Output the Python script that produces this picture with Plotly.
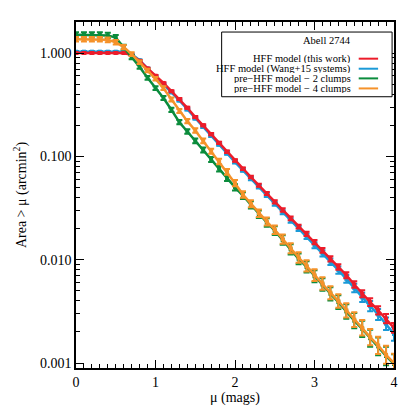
import plotly.graph_objects as go

RED = "#EC1C2A"
BLUE = "#1B9AD7"
GREEN = "#0B8C3C"
ORANGE = "#F5922A"

mu = [0.0, 0.1, 0.2, 0.3, 0.4, 0.5, 0.6, 0.7, 0.8, 0.9,
      1.0, 1.1, 1.2, 1.3, 1.4, 1.5, 1.6, 1.7, 1.8, 1.9,
      2.0, 2.1, 2.2, 2.3, 2.4, 2.5, 2.6, 2.7, 2.8, 2.9,
      3.0, 3.1, 3.2, 3.3, 3.4, 3.5, 3.6, 3.7, 3.8, 3.9, 4.0]

# HFF model (this work)
area_red = [1.00, 1.00, 1.00, 1.00, 1.00, 1.00, 1.00, 0.955, 0.841, 0.708,
            0.603, 0.513, 0.427, 0.359, 0.295, 0.240, 0.200, 0.164, 0.135, 0.111,
            0.0912, 0.0759, 0.0631, 0.0525, 0.0437, 0.0363, 0.0302, 0.0251, 0.0209, 0.0178,
            0.0148, 0.0123, 0.0102, 0.00851, 0.00708, 0.00575, 0.00468, 0.00389, 0.00324, 0.00269, 0.00219]
# HFF model (Wang+15 systems)
area_blue = [1.03, 1.03, 1.03, 1.03, 1.03, 1.03, 1.03, 0.977, 0.851, 0.708,
             0.596, 0.501, 0.417, 0.347, 0.285, 0.232, 0.193, 0.158, 0.130, 0.107,
             0.0881, 0.0733, 0.0610, 0.0507, 0.0422, 0.0347, 0.0288, 0.0240, 0.0200, 0.0168,
             0.0138, 0.0115, 0.00955, 0.00794, 0.00653, 0.00531, 0.00432, 0.00355, 0.00295, 0.00240, 0.00191]
# pre-HFF model - 2 clumps
area_green = [1.50, 1.50, 1.50, 1.50, 1.48, 1.41, 1.14, 0.912, 0.733, 0.575,
              0.457, 0.367, 0.282, 0.214, 0.174, 0.141, 0.115, 0.0933, 0.0759, 0.0617,
              0.0501, 0.0417, 0.0339, 0.0275, 0.0229, 0.0191, 0.0155, 0.0126, 0.0102, 0.00851,
              0.00692, 0.00575, 0.00468, 0.00389, 0.00316, 0.00257, 0.00214, 0.00174, 0.00145, 0.00117, 0.000977]
# pre-HFF model - 4 clumps
area_orange = [1.36, 1.36, 1.36, 1.36, 1.34, 1.27, 1.14, 0.977, 0.813, 0.676,
               0.562, 0.457, 0.355, 0.275, 0.219, 0.178, 0.141, 0.112, 0.0891, 0.0708,
               0.0550, 0.0427, 0.0347, 0.0282, 0.0234, 0.0195, 0.0158, 0.0129, 0.0105, 0.00871,
               0.00708, 0.00589, 0.00479, 0.00398, 0.00324, 0.00263, 0.00219, 0.00178, 0.00148, 0.00120, 0.00100]

# error bars, in dex
err_red = [0.006, 0.006, 0.006, 0.006, 0.006, 0.006, 0.006, 0.006, 0.007, 0.007,
           0.008, 0.008, 0.008, 0.009, 0.009, 0.010, 0.010, 0.011, 0.011, 0.012,
           0.012, 0.013, 0.013, 0.014, 0.015, 0.016, 0.017, 0.018, 0.019, 0.020,
           0.021, 0.023, 0.025, 0.027, 0.029, 0.031, 0.034, 0.037, 0.040, 0.044, 0.048]
err_blue = [0.006, 0.006, 0.006, 0.006, 0.006, 0.006, 0.006, 0.006, 0.007, 0.007,
            0.008, 0.008, 0.009, 0.009, 0.010, 0.010, 0.011, 0.011, 0.012, 0.013,
            0.014, 0.015, 0.016, 0.017, 0.018, 0.019, 0.020, 0.022, 0.024, 0.026,
            0.028, 0.030, 0.032, 0.035, 0.038, 0.041, 0.045, 0.049, 0.054, 0.060, 0.065]
err_green = [0.025, 0.025, 0.025, 0.025, 0.025, 0.024, 0.022, 0.020, 0.018, 0.018,
             0.018, 0.019, 0.020, 0.021, 0.022, 0.023, 0.024, 0.025, 0.027, 0.029,
             0.031, 0.033, 0.035, 0.037, 0.040, 0.043, 0.046, 0.049, 0.052, 0.055,
             0.058, 0.061, 0.064, 0.067, 0.070, 0.074, 0.078, 0.082, 0.086, 0.090, 0.095]
err_orange = [0.022, 0.022, 0.022, 0.022, 0.022, 0.021, 0.020, 0.018, 0.017, 0.017,
              0.017, 0.018, 0.019, 0.020, 0.021, 0.022, 0.023, 0.024, 0.026, 0.028,
              0.030, 0.032, 0.034, 0.036, 0.039, 0.042, 0.045, 0.048, 0.051, 0.054,
              0.057, 0.060, 0.063, 0.066, 0.069, 0.072, 0.075, 0.079, 0.083, 0.087, 0.091]

labels = ["HFF model (this work)", "HFF model (Wang+15 systems)",
          "pre\u2212HFF model \u2212 2 clumps", "pre\u2212HFF model \u2212 4 clumps"]

FONT = "Liberation Serif, Times New Roman, serif"

fig = go.Figure()


def add_series(y, err, color, name):
    up = [v * (10 ** e - 1) for v, e in zip(y, err)]
    dn = [v * (1 - 10 ** -e) for v, e in zip(y, err)]
    fig.add_trace(
        go.Scatter(
            x=mu,
            y=y,
            mode="lines+markers",
            name=name,
            showlegend=False,
            line=dict(color=color, width=2.5),
            marker=dict(color=color, size=4, symbol="square"),
            error_y=dict(type="data", array=up, arrayminus=dn, color=color,
                         thickness=2, width=3),
        )
    )


add_series(area_blue, err_blue, BLUE, labels[1])
add_series(area_red, err_red, RED, labels[0])
add_series(area_green, err_green, GREEN, labels[2])
add_series(area_orange, err_orange, ORANGE, labels[3])

# legend box (drawn by hand: text right-aligned, line sample on the right)
fig.add_shape(type="rect", xref="paper", yref="paper", x0=0.458, x1=0.994, y0=0.784, y1=0.971,
              line=dict(color="black", width=1), fillcolor="white", layer="above")
fig.add_annotation(xref="paper", yref="paper", x=0.870, y=0.948, text="Abell 2744",
                   showarrow=False, xanchor="right", yanchor="middle", height=10,
                   font=dict(family=FONT, size=10.5, color="black"))
leg_y = [0.894, 0.865, 0.837, 0.808]
for lab, col, yy in zip(labels, [RED, BLUE, GREEN, ORANGE], leg_y):
    fig.add_annotation(xref="paper", yref="paper", x=0.870, y=yy, text=lab,
                       showarrow=False, xanchor="right", yanchor="middle", height=9,
                       font=dict(family=FONT, size=10.5, color="black"))
    fig.add_shape(type="line", xref="paper", yref="paper", x0=0.889, x1=0.950, y0=yy, y1=yy,
                  line=dict(color=col, width=2), layer="above")

# the page body has an 8px margin, so the figure is 407px square
fig.update_layout(
    width=407,
    height=407,
    margin=dict(l=63, r=21, t=14, b=45),
    paper_bgcolor="white",
    plot_bgcolor="white",
    font=dict(family=FONT, size=14, color="black"),
    showlegend=False,
)

fig.update_xaxes(
    range=[0, 4],
    tickvals=[0, 1, 2, 3, 4],
    ticks="inside",
    ticklen=8,
    tickwidth=1,
    tickcolor="black",
    showline=True,
    linecolor="black",
    linewidth=1.5,
    mirror="ticks",
    showgrid=False,
    zeroline=False,
    minor=dict(ticks="inside", ticklen=4, dtick=0.1, tickcolor="black", showgrid=False),
    title=dict(text="\u03bc (mags)", font=dict(size=14), standoff=4),
    tickfont=dict(size=14),
)

fig.update_yaxes(
    type="log",
    range=[-3.048, 0.30],
    tickvals=[0.001, 0.01, 0.1, 1],
    ticktext=["0.001", "0.010", "0.100", "1.000"],
    ticks="inside",
    ticklen=8,
    tickwidth=1,
    tickcolor="black",
    showline=True,
    linecolor="black",
    linewidth=1.5,
    mirror="ticks",
    showgrid=False,
    zeroline=False,
    minor=dict(ticks="inside", ticklen=4, dtick="D1", tickcolor="black", showgrid=False),
    title=dict(text="Area > \u03bc (arcmin<sup>2</sup>)", font=dict(size=14), standoff=10),
    tickfont=dict(size=14),
)

fig.write_html("out.html")
